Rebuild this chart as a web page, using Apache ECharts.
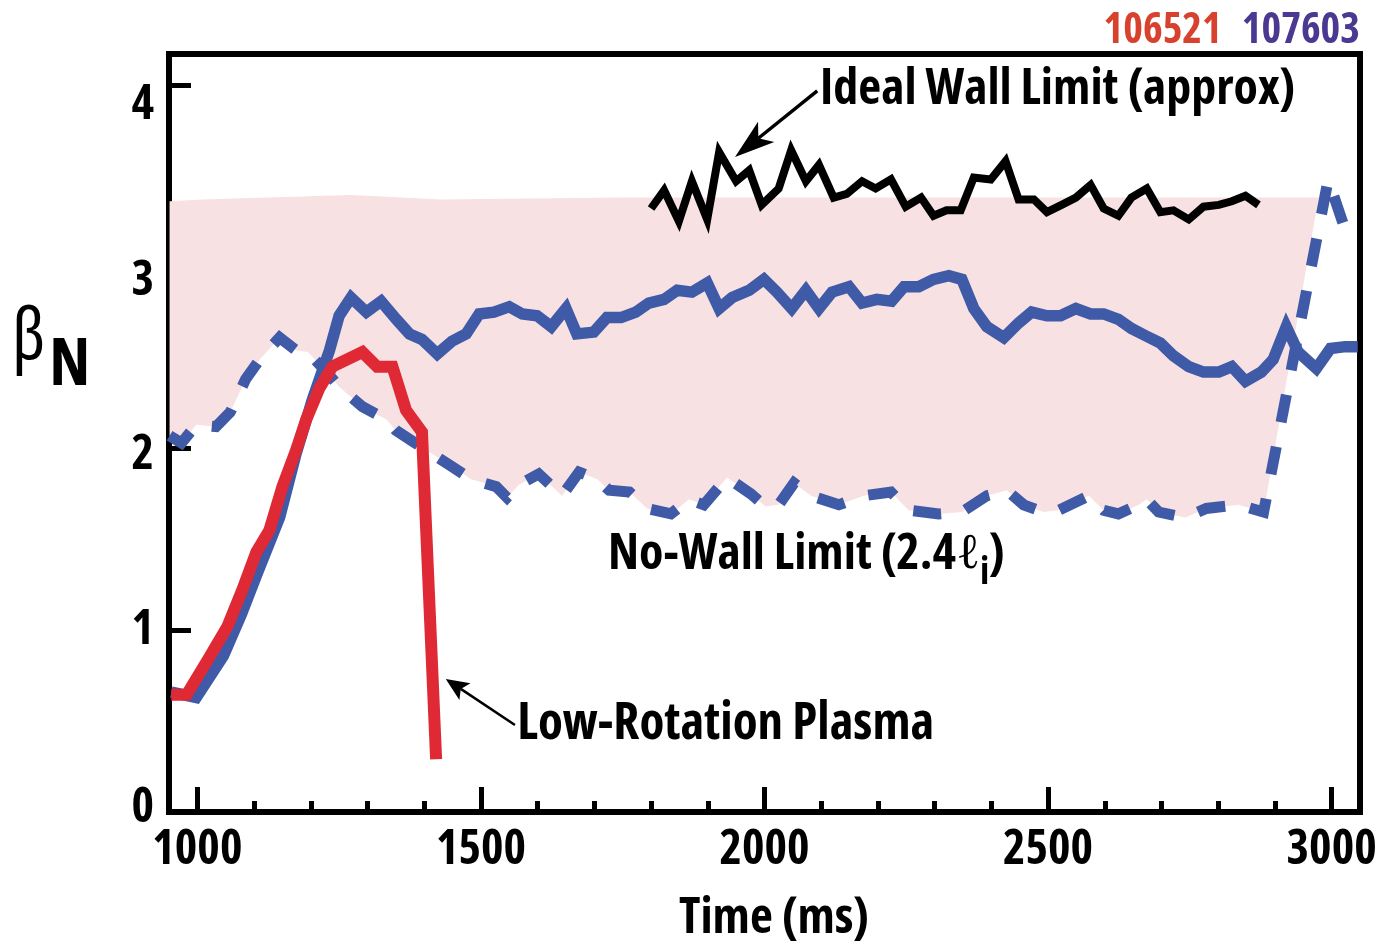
<!DOCTYPE html>
<html>
<head>
<meta charset="utf-8">
<title>Normalized beta vs time</title>
<script src="https://cdn.jsdelivr.net/npm/echarts@6/dist/echarts.min.js"></script>
<style>
  html, body { margin: 0; padding: 0; background: #fff; }
  #chart { width: 1391px; height: 944px; }
</style>
</head>
<body>
<div id="chart"></div>
<script>
// ---- data (time in ms, normalized beta) ----

// Shot 106521: low-rotation plasma, disrupts near 1420 ms
const redTime = [954, 981, 1021, 1053, 1079, 1104, 1127, 1150, 1174, 1192, 1215, 1238, 1291, 1317, 1344, 1368, 1396, 1421];
const redBeta = [0.645, 0.645, 0.85, 1.02, 1.22, 1.43, 1.55, 1.79, 1.99, 2.16, 2.33, 2.45, 2.53, 2.45, 2.45, 2.21, 2.09, 0.29];

// Shot 107603: sustained above the no-wall limit
const blueTime = [954, 998, 1046, 1078, 1104, 1145, 1174, 1203, 1233, 1250, 1271, 1298, 1324, 1351, 1374, 1396, 1423, 1449, 1474, 1497,
  1523, 1550, 1573, 1599, 1624, 1650, 1669, 1699, 1722, 1747, 1773, 1796, 1823, 1846, 1872, 1899, 1920, 1943, 1973, 1999,
  2022, 2048, 2073, 2096, 2119, 2149, 2172, 2198, 2224, 2246, 2272, 2298, 2325, 2348, 2369, 2392, 2422, 2448, 2471, 2498,
  2522, 2549, 2575, 2598, 2624, 2647, 2672, 2698, 2721, 2748, 2774, 2801, 2824, 2848, 2876, 2897, 2920, 2941, 2973, 2998,
  3024, 3046];
const blueBeta = [0.66, 0.63, 0.86, 1.09, 1.30, 1.62, 1.97, 2.27, 2.54, 2.73, 2.83, 2.75, 2.81, 2.71, 2.63, 2.60, 2.52, 2.59, 2.63, 2.74,
  2.75, 2.78, 2.74, 2.73, 2.67, 2.77, 2.63, 2.64, 2.72, 2.72, 2.75, 2.80, 2.82, 2.87, 2.86, 2.91, 2.77, 2.83, 2.87, 2.93,
  2.86, 2.77, 2.87, 2.77, 2.86, 2.89, 2.80, 2.82, 2.81, 2.89, 2.89, 2.93, 2.95, 2.93, 2.77, 2.67, 2.61, 2.69, 2.75, 2.73,
  2.73, 2.77, 2.74, 2.74, 2.71, 2.66, 2.62, 2.58, 2.51, 2.45, 2.42, 2.42, 2.45, 2.37, 2.42, 2.49, 2.67, 2.53, 2.44, 2.55,
  2.56, 2.56];

// No-wall limit (2.4 li) for 107603
const noWallTime = [951, 972, 998, 1033, 1058, 1085, 1110, 1145, 1174, 1195, 1228, 1250, 1291, 1333, 1350, 1379, 1409, 1449, 1483, 1527,
  1546, 1567, 1602, 1643, 1673, 1705, 1726, 1762, 1793, 1835, 1867, 1893, 1934, 1976, 2002, 2025, 2052, 2082, 2131, 2175,
  2223, 2254, 2307, 2348, 2392, 2427, 2457, 2492, 2519, 2572, 2598, 2624, 2660, 2674, 2695, 2742, 2779, 2836, 2880, 2994,
  3021, 3047];
const noWallBeta = [2.07, 2.03, 2.13, 2.12, 2.20, 2.38, 2.49, 2.61, 2.54, 2.53, 2.42, 2.34, 2.23, 2.16, 2.10, 2.04, 1.98, 1.90, 1.83, 1.79,
  1.73, 1.80, 1.86, 1.74, 1.87, 1.83, 1.77, 1.76, 1.67, 1.64, 1.72, 1.69, 1.84, 1.75, 1.68, 1.69, 1.81, 1.74, 1.69, 1.74,
  1.76, 1.66, 1.64, 1.65, 1.74, 1.77, 1.69, 1.65, 1.66, 1.74, 1.66, 1.64, 1.69, 1.72, 1.65, 1.62, 1.67, 1.69, 1.65, 3.48,
  3.23, 3.17];

// Ideal wall limit (approx)
const wallTime = [1800, 1823, 1849, 1872, 1899, 1920, 1950, 1973, 1995, 2025, 2047, 2073, 2096, 2122, 2145, 2172, 2196, 2223, 2249, 2276,
  2298, 2321, 2346, 2369, 2399, 2425, 2448, 2475, 2498, 2524, 2549, 2575, 2598, 2624, 2647, 2674, 2698, 2721, 2748, 2774,
  2801, 2824, 2848, 2871];
const wallBeta = [3.32, 3.42, 3.25, 3.47, 3.26, 3.63, 3.47, 3.53, 3.34, 3.43, 3.64, 3.47, 3.56, 3.38, 3.40, 3.47, 3.43, 3.48, 3.33, 3.38,
  3.28, 3.31, 3.31, 3.49, 3.48, 3.58, 3.37, 3.37, 3.30, 3.34, 3.38, 3.45, 3.32, 3.28, 3.38, 3.43, 3.30, 3.31, 3.26, 3.33,
  3.34, 3.36, 3.39, 3.34];

// Wall-stabilized band: upper edge, lower edge follows the no-wall limit up to bandLowerEnd
const bandTopTime = [951, 1010, 1270, 1430, 1750, 2977];
const bandTopBeta = [3.36, 3.37, 3.395, 3.37, 3.38, 3.38];
const bandLowerEnd = 2880;

// Axis ticks and labels
const xMajorTicks = [1000, 1500, 2000, 2500, 3000];
const xMinorTicks = [1100, 1200, 1300, 1400, 1600, 1700, 1800, 1900, 2100, 2200, 2300, 2400, 2600, 2700, 2800, 2900];
const yTicks = [0, 1, 2, 3, 4];

// Annotation anchors [time, beta]
const wallLabelAt = [2098, 3.972];
const wallArrow = [[2093, 3.967], [1948, 3.603]];
const noWallLabelAt = [1724, 1.414];
const lowRotLabelAt = [1564, 0.479];
const lowRotArrow = [[1560, 0.479], [1438, 0.732]];

// ---- styling ----
const FONT = "'Open Sans', 'Liberation Sans', sans-serif";
const BOLD = 'bold condensed';       // condensed width of the variable font
const BLUE = '#3f5aa6';
const RED = '#df2a36';
const BAND = '#f7e1e2';

const pairs = (t, b) => t.map((x, i) => [x, b[i]]);

const chart = echarts.init(document.getElementById('chart'), null, { renderer: 'canvas' });

// per-label vertical nudges for the beta tick labels
const yLabelPad = { 0: [0, 0, 8, 0], 1: [0, 0, 0, 0], 2: [14, 0, 0, 0], 3: [30, 0, 0, 0], 4: [40, 0, 0, 0] };
const yRich = {};
yTicks.forEach(v => {
  yRich['v' + v] = { fontFamily: FONT, fontWeight: BOLD, fontSize: 48, color: '#000', padding: yLabelPad[v] };
});

const axisCommon = { min: 950, max: 3050, type: 'value', position: 'bottom', splitLine: { show: false } };

const option = {
  animation: false,
  backgroundColor: '#fff',
  grid: {
    left: 169, right: 31, top: 54, bottom: 132,
    show: true, borderColor: '#000', borderWidth: 6, backgroundColor: 'rgba(0,0,0,0)',
    containLabel: false, outerBoundsMode: 'none'
  },
  legend: {
    right: 26, top: 5, itemWidth: 0, itemHeight: 0, itemGap: 14, selectedMode: false,
    textStyle: { fontFamily: FONT, fontWeight: BOLD, fontSize: 42 },
    data: [
      { name: '106521', textStyle: { color: '#d7412d' } },
      { name: '107603', textStyle: { color: '#4b3891' } }
    ]
  },
  xAxis: [
    Object.assign({}, axisCommon, {
      name: 'Time (ms)', nameLocation: 'middle', nameGap: 82,
      nameTextStyle: { fontFamily: FONT, fontWeight: BOLD, fontSize: 50, color: '#000', padding: [0, 0, 0, 19] },
      axisLine: { show: true, onZero: false, lineStyle: { color: '#000', width: 6 } },
      axisTick: { show: true, inside: true, length: 25, lineStyle: { color: '#000', width: 5 }, customValues: xMajorTicks },
      axisLabel: {
        show: true, margin: 14, customValues: xMajorTicks, formatter: v => String(v),
        fontFamily: FONT, fontWeight: BOLD, fontSize: 48, color: '#000'
      }
    }),
    Object.assign({}, axisCommon, {
      axisLine: { show: false },
      axisTick: { show: true, inside: true, length: 11, lineStyle: { color: '#000', width: 5 }, customValues: xMinorTicks },
      axisLabel: { show: false }
    })
  ],
  yAxis: {
    type: 'value', min: 0, max: 4.17, splitLine: { show: false },
    axisLine: { show: true, onZero: false, lineStyle: { color: '#000', width: 6 } },
    axisTick: { show: true, inside: true, length: 22, lineStyle: { color: '#000', width: 5 }, customValues: yTicks },
    axisLabel: {
      show: true, margin: 15, customValues: yTicks, formatter: v => '{v' + v + '|' + v + '}', rich: yRich,
      fontFamily: FONT, fontWeight: BOLD, fontSize: 48, color: '#000'
    }
  },
  series: [
    {
      type: 'custom', name: 'band', coordinateSystem: 'cartesian2d', silent: true, z: 1, clip: true,
      data: [[bandTopTime[0], bandTopBeta[0]]], encode: { x: 0, y: 1 },
      renderItem: (params, api) => {
        const pts = bandTopTime.map((t, i) => api.coord([t, bandTopBeta[i]]));
        for (let i = noWallTime.length - 1; i >= 0; i--) {
          if (noWallTime[i] <= bandLowerEnd) pts.push(api.coord([noWallTime[i], noWallBeta[i]]));
        }
        return { type: 'polygon', shape: { points: pts }, style: { fill: BAND } };
      }
    },
    {
      type: 'line', name: 'No-Wall Limit', data: pairs(noWallTime, noWallBeta), symbol: 'none', z: 2, silent: true,
      lineStyle: { color: BLUE, width: 11, type: [28, 25], cap: 'butt', join: 'miter' }
    },
    {
      type: 'line', name: '107603', data: pairs(blueTime, blueBeta), symbol: 'none', z: 3, silent: true,
      itemStyle: { color: BLUE },
      lineStyle: { color: BLUE, width: 11.5, cap: 'butt', join: 'miter' }
    },
    {
      type: 'line', name: '106521', data: pairs(redTime, redBeta), symbol: 'none', z: 4, silent: true,
      itemStyle: { color: RED },
      lineStyle: { color: RED, width: 12, cap: 'butt', join: 'miter' }
    },
    {
      type: 'line', name: 'Ideal Wall Limit', data: pairs(wallTime, wallBeta), symbol: 'none', z: 5, silent: true,
      lineStyle: { color: '#000', width: 8, cap: 'butt', join: 'miter' }
    }
  ]
};

chart.setOption(option);

// ---- annotations, anchored in data space ----
const toPx = p => chart.convertToPixel({ seriesIndex: 2 }, p);

function arrow(from, to, width, headLen, headHalf, notch) {
  const a = toPx(from), b = toPx(to);
  const dx = b[0] - a[0], dy = b[1] - a[1];
  const len = Math.hypot(dx, dy);
  const ux = dx / len, uy = dy / len, nx = -uy, ny = ux;
  const bx = b[0] - ux * headLen, by = b[1] - uy * headLen;
  const mx = b[0] - ux * (headLen - notch), my = b[1] - uy * (headLen - notch);
  return [
    { type: 'line', z: 100, silent: true, shape: { x1: a[0], y1: a[1], x2: mx, y2: my }, style: { stroke: '#000', lineWidth: width } },
    { type: 'polygon', z: 100, silent: true,
      shape: { points: [[b[0], b[1]], [bx + nx * headHalf, by + ny * headHalf], [mx, my], [bx - nx * headHalf, by - ny * headHalf]] },
      style: { fill: '#000' } }
  ];
}

function label(at, text, size, rich) {
  const p = toPx(at);
  const style = { text: text, fontFamily: FONT, fontWeight: BOLD, fontSize: size, fill: '#000', align: 'left', verticalAlign: 'middle' };
  if (rich) style.rich = rich;
  return { type: 'text', z: 100, silent: true, x: p[0], y: p[1], style: style };
}

const noWallRich = {
  b: { fontFamily: FONT, fontWeight: BOLD, fontSize: 50, fill: '#000' },
  ell: { fontFamily: "'Liberation Serif', 'DejaVu Serif', serif", fontWeight: 'normal', fontSize: 50, fill: '#000' },
  sub: { fontFamily: FONT, fontWeight: BOLD, fontSize: 38, fill: '#000', padding: [37, 0, 0, 0] }
};

const graphics = [].concat(
  arrow(wallArrow[0], wallArrow[1], 3.5, 40, 13, 10),
  arrow(lowRotArrow[0], lowRotArrow[1], 2.5, 23, 10, 5),
  [
    label(wallLabelAt, 'Ideal Wall Limit (approx)', 50),
    label(noWallLabelAt, '{b|No-Wall Limit (2.4}{ell|\u2113}{sub|i}{b|)}', 50, noWallRich),
    label(lowRotLabelAt, 'Low-Rotation Plasma', 51),
    {
      type: 'text', z: 100, silent: true, x: 12, y: 338,
      style: {
        text: '{beta|\u03b2}{n|N}', align: 'left', verticalAlign: 'middle',
        rich: {
          beta: { fontFamily: FONT, fontWeight: 'normal semi-condensed', fontSize: 72, fill: '#000' },
          n: { fontFamily: FONT, fontWeight: BOLD, fontSize: 66, fill: '#000', padding: [57, 0, 0, 4] }
        }
      }
    }
  ]
);

chart.setOption({ graphic: graphics });
</script>
</body>
</html>
